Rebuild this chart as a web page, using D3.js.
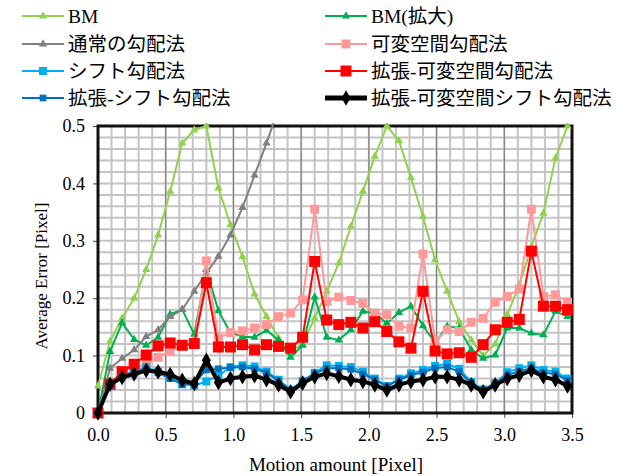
<!DOCTYPE html>
<html><head><meta charset="utf-8">
<script src="https://cdn.jsdelivr.net/npm/d3@7"></script>
<style>
html,body{margin:0;padding:0;background:#fff;}
svg text{font-family:"Liberation Serif","Noto Sans CJK JP",serif;fill:#000;}
</style></head>
<body><svg id="c" width="626" height="476"></svg>
<script>
// ---- data ----
const xValues = [0,0.089,0.178,0.267,0.356,0.444,0.533,0.622,0.711,0.8,0.889,0.978,1.067,1.156,1.244,1.333,1.422,1.511,1.6,1.689,1.778,1.867,1.956,2.044,2.133,2.222,2.311,2.4,2.489,2.578,2.667,2.756,2.844,2.933,3.022,3.111,3.2,3.289,3.378,3.467];
const seriesNames = ["BM","BM(拡大)","通常の勾配法","可変空間勾配法","シフト勾配法","拡張-可変空間勾配法","拡張-シフト勾配法","拡張-可変空間シフト勾配法"];
const bm = [0.047,0.125,0.165,0.2,0.25,0.31,0.386,0.47,0.493,0.5,0.392,0.328,0.272,0.207,0.168,0.13,0.108,0.12,0.165,0.212,0.261,0.325,0.386,0.447,0.5,0.474,0.41,0.342,0.267,0.212,0.159,0.127,0.1,0.12,0.171,0.223,0.29,0.348,0.444,0.5];
const bmExt = [0,0.107,0.157,0.128,0.118,0.132,0.172,0.18,0.137,0.25,0.178,0.14,0.133,0.132,0.144,0.127,0.097,0.118,0.202,0.132,0.127,0.145,0.177,0.174,0.156,0.175,0.186,0.152,0.122,0.151,0.148,0.11,0.095,0.101,0.148,0.148,0.139,0.136,0.177,0.168];
const gradient = [0,0.078,0.095,0.11,0.133,0.145,0.168,0.18,0.212,0.244,0.273,0.31,0.358,0.414,0.47,0.53,null,null,null,null,null,null,null,null,null,null,null,null,null,null,null,null,null,null,null,null,null,null,null,null];
const varSpace = [0,0.05,0.065,0.075,0.088,0.097,0.108,0.118,0.12,0.265,0.13,0.14,0.143,0.148,0.154,0.168,0.174,0.197,0.355,0.194,0.202,0.196,0.191,0.174,0.171,0.151,0.148,0.277,0.125,0.145,0.142,0.158,0.165,0.193,0.203,0.216,0.355,0.203,0.206,0.193];
const shift = [0,0.05,0.065,0.072,0.08,0.072,0.062,0.05,0.048,0.055,0.065,0.08,0.083,0.081,0.072,0.058,0.04,0.056,0.07,0.083,0.082,0.08,0.072,0.06,0.047,0.06,0.069,0.075,0.082,0.086,0.077,0.054,0.041,0.052,0.071,0.078,0.083,0.075,0.072,0.06];
const extVarSpace = [0,0.05,0.072,0.085,0.101,0.117,0.122,0.118,0.121,0.227,0.115,0.115,0.119,0.11,0.119,0.116,0.113,0.132,0.264,0.162,0.154,0.158,0.148,0.159,0.142,0.124,0.113,0.212,0.108,0.103,0.105,0.097,0.119,0.145,0.158,0.163,0.282,0.186,0.186,0.18];
const extShift = [0,0.048,0.062,0.07,0.076,0.07,0.06,0.05,0.052,0.075,0.077,0.079,0.08,0.077,0.07,0.056,0.04,0.055,0.068,0.078,0.078,0.076,0.068,0.058,0.046,0.058,0.066,0.071,0.078,0.08,0.072,0.052,0.04,0.05,0.066,0.073,0.078,0.07,0.068,0.057];
const extVarShift = [0,0.05,0.062,0.068,0.074,0.072,0.067,0.057,0.051,0.092,0.053,0.06,0.063,0.065,0.058,0.049,0.037,0.052,0.063,0.069,0.064,0.058,0.055,0.049,0.04,0.049,0.055,0.058,0.063,0.063,0.058,0.049,0.037,0.049,0.06,0.066,0.074,0.063,0.058,0.047];
const xTicks = [0,0.5,1.0,1.5,2.0,2.5,3.0,3.5];
const yTicks = [0,0.1,0.2,0.3,0.4,0.5];

// ---- styles ----
const styles = [
  {data:bm, color:"#92d050", w:2, sym:d3.symbolTriangle, size:30},
  {data:bmExt, color:"#00b050", w:2, sym:d3.symbolTriangle, size:30},
  {data:gradient, color:"#808080", w:2, sym:d3.symbolTriangle, size:30},
  {data:varSpace, color:"#ff9999", w:2, sym:d3.symbolSquare, size:80},
  {data:shift, color:"#00b0f0", w:2, sym:d3.symbolSquare, size:64},
  {data:extVarSpace, color:"#ff0000", w:2, sym:d3.symbolSquare, size:121},
  {data:extShift, color:"#0070c0", w:2, sym:d3.symbolSquare, size:45},
  {data:extVarShift, color:"#000000", w:4, sym:d3.symbolDiamond, size:70}
];

const svg = d3.select("#c");
const L=98, R=572, T=126, B=413;
const x = d3.scaleLinear().domain([0,3.5]).range([L,R]);
const y = d3.scaleLinear().domain([0,0.5]).range([B,T]);

// grid
const g = svg.append("g");
g.selectAll("line.hg").data(d3.range(1,25).map(i=>i*0.02)).join("line")
  .attr("x1",L).attr("x2",R).attr("y1",d=>y(d)).attr("y2",d=>y(d))
  .attr("stroke","#c4c4c4").attr("stroke-width",2);
g.selectAll("line.vg").data(d3.range(1,35).map(i=>i*0.1)).join("line")
  .attr("y1",T).attr("y2",B).attr("x1",d=>x(d)).attr("x2",d=>x(d))
  .attr("stroke","#c4c4c4").attr("stroke-width",2);
g.selectAll("line.vm").data(xTicks.slice(1,-1)).join("line")
  .attr("y1",T).attr("y2",B).attr("x1",d=>x(d)).attr("x2",d=>x(d))
  .attr("stroke","#777").attr("stroke-width",1);

// axes
const yAxis = svg.append("g").attr("transform",`translate(${L},0)`)
  .call(d3.axisLeft(y).tickValues(yTicks).tickFormat(d=>d===0?"0":d3.format(".1f")(d)).tickSize(5).tickPadding(8));
const xAxis = svg.append("g").attr("transform",`translate(0,${B})`)
  .call(d3.axisBottom(x).tickValues(xTicks).tickFormat(d3.format(".1f")).tickSize(5).tickPadding(10));
[yAxis,xAxis].forEach(a=>{a.select(".domain").remove();a.selectAll("text").attr("font-size",18).attr("font-family","'Liberation Serif',serif");a.selectAll("line").attr("stroke","#444");});

// border
svg.append("rect").attr("x",L).attr("y",T).attr("width",R-L).attr("height",B-T)
  .attr("fill","none").attr("stroke","#111").attr("stroke-width",3);

// titles
svg.append("text").attr("x",336).attr("y",471).attr("text-anchor","middle").attr("font-size",19).text("Motion amount [Pixel]");
svg.append("text").attr("transform","translate(47,276) rotate(-90)").attr("text-anchor","middle").attr("font-size",17).text("Average Error [Pixel]");

// clip
svg.append("clipPath").attr("id","clip").append("rect").attr("x",L-20).attr("y",T-3).attr("width",R-L+40).attr("height",B-T+30);
const plot = svg.append("g").attr("clip-path","url(#clip)");

styles.forEach(s=>{
  const pts = xValues.map((xv,i)=>({x:xv,y:s.data[i]}));
  const line = d3.line().defined(d=>d.y!=null).x(d=>x(d.x)).y(d=>y(d.y));
  plot.append("path").datum(pts).attr("d",line).attr("fill","none")
    .attr("stroke",s.color).attr("stroke-width",s.w).attr("stroke-linejoin","round");
  plot.selectAll(null).data(pts.filter(d=>d.y!=null)).join("path")
    .attr("d",d3.symbol().type(s.sym).size(s.size))
    .attr("transform",d=>`translate(${x(d.x)},${y(d.y)})`)
    .attr("fill",s.color);
});

// legend
const legRows=[16,44,71,98], legCols=[22,325];
seriesNames.forEach((name,i)=>{
  const s=styles[i];
  const cx=legCols[i%2], cy=legRows[Math.floor(i/2)];
  const lg=svg.append("g");
  lg.append("line").attr("x1",cx).attr("x2",cx+42).attr("y1",cy).attr("y2",cy)
    .attr("stroke",s.color).attr("stroke-width",s.w===4?5:2);
  lg.append("path").attr("d",d3.symbol().type(s.sym).size(s.size))
    .attr("transform",`translate(${cx+21},${cy})`).attr("fill",s.color);
  lg.append("text").attr("x",cx+46).attr("y",cy+7).attr("font-size",19.5).text(name);
});
</script></body></html>
